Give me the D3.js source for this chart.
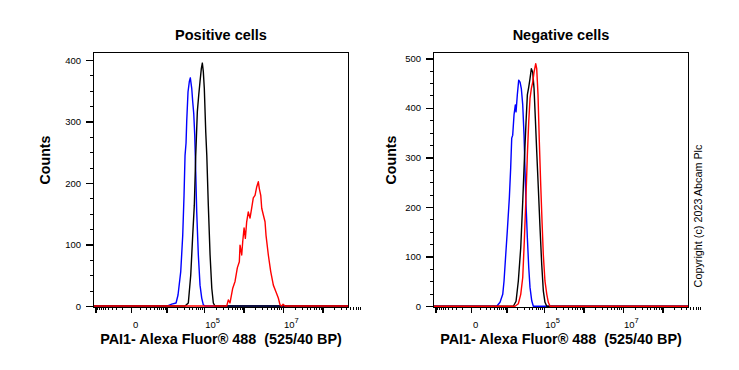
<!DOCTYPE html>
<html>
<head>
<meta charset="utf-8">
<script src="https://cdn.jsdelivr.net/npm/d3@7"></script>
<style>
  body { margin: 0; background: #fff; }
  svg { display: block; font-family: Arial, "Liberation Sans", sans-serif; }
</style>
</head>
<body>
<div id="chart"></div>
<script>
// Panel titles and y tick ranges
const panelTitles = ["Positive cells", "Negative cells"];
const yTickMax = [400, 500];
const yDomainMax = [413, 512.7];
const xAxisTitle = "PAI1- Alexa Fluor\u00ae 488  (525/40 BP)";
const copyright = "Copyright (c) 2023 Abcam Plc";

// x axis labels (value, exponent) and major ticks
const xLabelValues = [0, 1e5, 1e7];
const xLabelExp = [null, 5, 7];
const xMajorTicks = [-1e4, 0, 1e4, 1e5, 1e6, 1e7, 1e8];

// Histograms: [intensity, count]
const posBlue = [[1.02e4,0],[1.39e4,3],[1.83e4,5],[2.07e4,18],[2.45e4,56],[2.77e4,115],[3.0e4,180],[3.19e4,245],[3.39e4,265],[3.53e4,300],[3.82e4,348],[4.14e4,365],[4.39e4,371],[4.78e4,354],[5.07e4,332],[5.39e4,313],[5.72e4,278],[6.07e4,218],[6.44e4,153],[7.09e4,83],[7.84e4,34],[8.67e4,13],[9.53e4,2],[1.05e5,0]];
const posBlack = [[3.19e4,0],[3.89e4,5],[4.5e4,50],[5.07e4,115],[5.58e4,164],[6.07e4,245],[6.68e4,316],[7.26e4,343],[7.84e4,365],[8.47e4,386],[8.99e4,395],[9.53e4,381],[1.01e5,354],[1.1e5,283],[1.17e5,245],[1.28e5,164],[1.42e5,83],[1.57e5,29],[1.72e5,5],[1.9e5,0]];
const posRed = [[3.77e5,0],[4.14e5,10],[4.57e5,5],[5.36e5,29],[6.13e5,40],[7.01e5,62],[7.88e5,72],[8.21e5,99],[9.06e5,83],[9.61e5,105],[1.04e6,127],[1.12e6,110],[1.21e6,137],[1.33e6,153],[1.47e6,143],[1.62e6,159],[1.78e6,176],[1.97e6,180],[2.18e6,194],[2.39e6,202],[2.53e6,191],[2.75e6,180],[2.91e6,159],[3.2e6,148],[3.53e6,137],[3.74e6,115],[4.28e6,83],[4.92e6,56],[5.73e6,34],[6.7e6,23],[7.66e6,13],[8.46e6,2],[9.34e6,0],[1.01e7,3],[1.13e7,0]];

const negBlue = [[4.97e3,0],[6.32e3,8],[7.65e3,24],[8.36e3,51],[9.38e3,104],[1.04e4,151],[1.19e4,218],[1.3e4,279],[1.39e4,339],[1.48e4,345],[1.61e4,386],[1.75e4,406],[1.83e4,392],[1.98e4,426],[2.16e4,456],[2.35e4,452],[2.54e4,439],[2.77e4,406],[3.0e4,345],[3.19e4,272],[3.39e4,205],[3.67e4,138],[3.99e4,78],[4.31e4,38],[4.78e4,11],[5.26e4,0]];
const negBlack = [[1.54e4,0],[1.83e4,10],[2.11e4,51],[2.45e4,118],[2.77e4,211],[3.05e4,292],[3.39e4,372],[3.67e4,426],[3.99e4,442],[4.31e4,459],[4.67e4,479],[5.07e4,472],[5.49e4,439],[5.93e4,379],[6.44e4,312],[7.09e4,238],[7.84e4,158],[8.67e4,84],[9.53e4,31],[1.05e5,8],[1.17e5,0]];
const negRed = [[1.72e4,0],[2.11e4,5],[2.45e4,24],[2.77e4,58],[3.05e4,131],[3.39e4,225],[3.67e4,305],[3.99e4,372],[4.31e4,419],[4.67e4,439],[5.07e4,452],[5.49e4,472],[6.07e4,489],[6.44e4,479],[6.96e4,426],[7.52e4,332],[8.17e4,245],[8.83e4,171],[9.53e4,104],[1.05e5,51],[1.17e5,24],[1.28e5,8],[1.42e5,0]];

const panelSeries = [
  [{data: posBlue, color: "#0000ff"}, {data: posBlack, color: "#000000"}, {data: posRed, color: "#ff0000"}],
  [{data: negBlue, color: "#0000ff"}, {data: negBlack, color: "#000000"}, {data: negRed, color: "#ff0000"}]
];

// Layout
const W = 739, H = 370;
const panelLeft = [93, 433];
const plotW = 256, plotTop = 52, plotBottom = 307;
const countsX = [50, 396];

const svg = d3.select("#chart").append("svg")
  .attr("width", W).attr("height", H);

// minor ticks: 1..9 x 10^n, both signs near zero
const xMinorTicks = [];
for (let n = 3; n <= 8; n++) {
  for (let k = 1; k <= 9; k++) {
    const v = k * Math.pow(10, n);
    if (!xMajorTicks.includes(v)) xMinorTicks.push(v);
    if (n === 3 && !xMajorTicks.includes(-v)) xMinorTicks.push(-v);
  }
}

function drawPanel(i) {
  const g = svg.append("g").attr("transform", `translate(${panelLeft[i]},0)`);

  const x = d3.scaleSymlog().constant(1430)
    .domain([-1.17e4, 4.72e8])
    .range([0, plotW]);

  const y = d3.scaleLinear()
    .domain([-(yDomainMax[i] - yTickMax[i]) * 0.12, yDomainMax[i]])
    .range([plotBottom, plotTop]);

  // curves
  const line = d3.line().x(d => x(d[0])).y(d => y(d[1]));
  panelSeries[i].forEach(s => {
    const pts = [[x.domain()[0], 0]].concat(s.data, [[x.domain()[1], 0]]);
    g.append("path")
      .datum(pts)
      .attr("fill", "none")
      .attr("stroke", s.color)
      .attr("stroke-width", 1.4)
      .attr("stroke-linejoin", "round")
      .attr("d", line);
  });

  // frame
  g.append("rect")
    .attr("x", 0.5).attr("y", plotTop + 0.5)
    .attr("width", plotW - 1).attr("height", plotBottom - plotTop)
    .attr("fill", "none").attr("stroke", "#000").attr("stroke-width", 1)
    .attr("shape-rendering", "crispEdges");

  // y axis
  const yMajor = d3.range(0, yTickMax[i] + 1, 100);
  const yMinor = d3.range(25, yDomainMax[i], 25).filter(v => v % 100 !== 0);
  const yAx = g.append("g")
    .call(d3.axisLeft(y).tickValues(yMajor).tickSize(7).tickPadding(5).tickFormat(d3.format("d")));
  yAx.select(".domain").remove();
  yAx.selectAll("line").attr("stroke-width", 1.5).attr("shape-rendering", "crispEdges");
  yAx.selectAll("text").attr("font-size", 9.5).attr("font-family", "Arial, 'Liberation Sans', sans-serif").attr("fill", "#000");
  const yMin = g.append("g")
    .call(d3.axisLeft(y).tickValues(yMinor).tickSize(3).tickFormat(""));
  yMin.select(".domain").remove();
  yMin.selectAll("line").attr("shape-rendering", "crispEdges");

  // x axis
  const xAx = g.append("g").attr("transform", `translate(0,${plotBottom})`)
    .call(d3.axisBottom(x).tickValues(xMajorTicks).tickSize(6).tickFormat(""));
  xAx.select(".domain").remove();
  xAx.selectAll("line").attr("stroke-width", 1.5).attr("shape-rendering", "crispEdges");
  const xMin = g.append("g").attr("transform", `translate(0,${plotBottom})`)
    .call(d3.axisBottom(x).tickValues(xMinorTicks).tickSize(3).tickFormat(""));
  xMin.select(".domain").remove();
  xMin.selectAll("line").attr("shape-rendering", "crispEdges");

  // x tick labels with superscripts
  xLabelValues.forEach((v, j) => {
    const t = g.append("text")
      .attr("x", x(v) + 1)
      .attr("y", 328)
      .attr("font-size", 9.5)
      .attr("fill", "#000");
    if (xLabelExp[j] === null) {
      t.text("0").attr("x", x(v) + 2);
    } else {
      t.append("tspan").text("10");
      t.append("tspan").attr("font-size", 7.5).attr("dy", -5).text(xLabelExp[j]);
    }
  });

  // titles
  g.append("text")
    .attr("x", plotW / 2).attr("y", 40)
    .attr("text-anchor", "middle")
    .attr("font-size", 14.5).attr("font-weight", "bold")
    .text(panelTitles[i]);

  g.append("text")
    .attr("x", plotW / 2).attr("y", 344)
    .attr("text-anchor", "middle")
    .attr("font-size", 14.4).attr("font-weight", "bold")
    .style("white-space", "pre")
    .text(xAxisTitle);

  svg.append("text")
    .attr("transform", `translate(${countsX[i]},160) rotate(-90)`)
    .attr("text-anchor", "middle")
    .attr("font-size", 14.2).attr("font-weight", "bold")
    .text("Counts");
}

drawPanel(0);
drawPanel(1);

svg.append("text")
  .attr("transform", "translate(702,216) rotate(-90)")
  .attr("text-anchor", "middle")
  .attr("font-size", 10.8)
  .text(copyright);
</script>
</body>
</html>
